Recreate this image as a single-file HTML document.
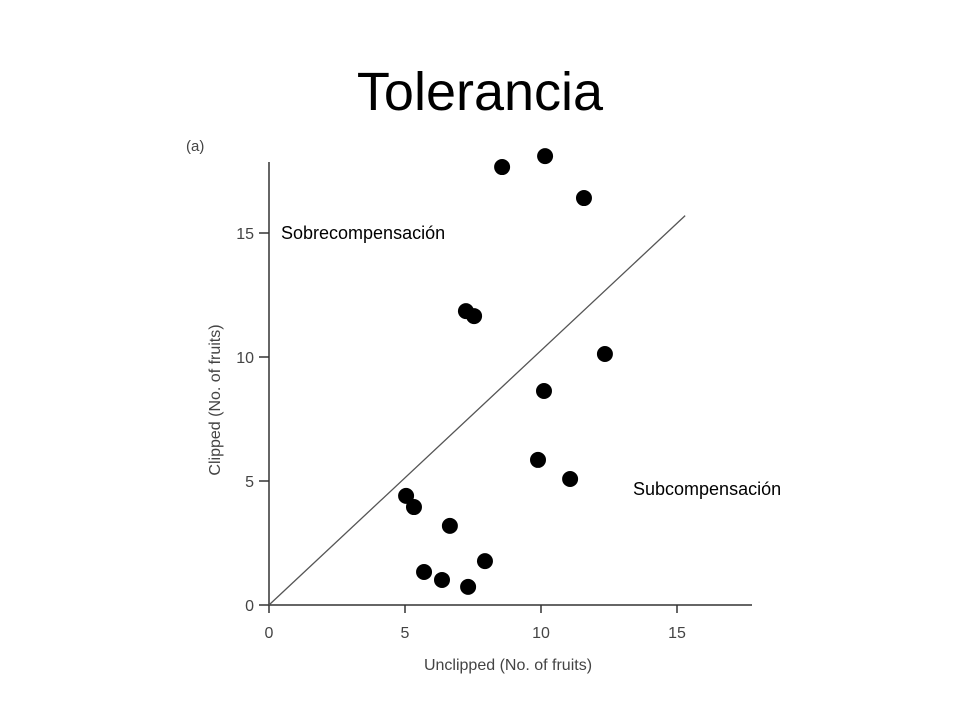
<!DOCTYPE html>
<html><head><meta charset="utf-8"><style>
body{margin:0;background:#fff;width:960px;height:720px;overflow:hidden;font-family:"Liberation Sans",sans-serif}
</style></head><body>
<svg width="960" height="720" id="chart">
<text x="480" y="110" text-anchor="middle" font-size="54">Tolerancia</text>
<text x="186" y="151" font-size="15" fill="#444">(a)</text>
<text x="281" y="239" font-size="18">Sobrecompensación</text>
<text x="633" y="495" font-size="18">Subcompensación</text>
<text x="508" y="670" text-anchor="middle" font-size="16" fill="#444">Unclipped (No. of fruits)</text>
<text transform="translate(220,400) rotate(-90)" text-anchor="middle" font-size="16" fill="#444">Clipped (No. of fruits)</text>
<g id="axes"></g><g id="marks"></g>
</svg>
<script>
const xTicks=[0,5,10,15];
const yTicks=[0,5,10,15];
const unclipped=[8.57,10.15,11.58,7.24,7.54,12.35,10.11,9.89,11.07,5.04,5.33,6.65,7.94,5.70,6.36,7.32];
const clipped=[17.66,18.1,16.41,11.85,11.65,10.12,8.63,5.85,5.08,4.40,3.95,3.19,1.77,1.33,1.01,0.73];
const lineX=[0,15.3];
const lineY=[0,15.7];
const ns="http://www.w3.org/2000/svg";
const X=v=>269+v*27.2, Y=v=>605-v*24.8;
const axes=document.getElementById('axes'), marks=document.getElementById('marks');
function mk(tag,a,p){const e=document.createElementNS(ns,tag);for(const k in a)e.setAttribute(k,a[k]);p.appendChild(e);return e;}
let e=mk('line',{x1:269,y1:605,x2:752,y2:605,stroke:'#333','stroke-width':1.5},axes);


e=mk('line',{x1:269,y1:605,x2:269,y2:162,stroke:'#333','stroke-width':1.5},axes);


xTicks.forEach(t=>{
 let l=mk('line',{x1:X(t),y1:605,x2:X(t),y2:613,stroke:'#333','stroke-width':1.5},axes);
 
 
 let s=mk('text',{x:X(t),y:638,'text-anchor':'middle','font-size':16,fill:'#444'},axes);s.textContent=t;
 
 
});
yTicks.forEach(t=>{
 let l=mk('line',{x1:259,y1:Y(t),x2:269,y2:Y(t),stroke:'#333','stroke-width':1.5},axes);
 
 
 let s=mk('text',{x:254,y:Y(t)+6,'text-anchor':'end','font-size':16,fill:'#444'},axes);s.textContent=t;
 
 
});
e=mk('line',{x1:X(lineX[0]),y1:Y(lineY[0]),x2:X(lineX[1]),y2:Y(lineY[1]),stroke:'#555','stroke-width':1.3},marks);


unclipped.forEach((v,i)=>{
 let c=mk('circle',{cx:X(v),cy:Y(clipped[i]),r:8,fill:'#000'},marks);
 
 
});
</script>
</body></html>
